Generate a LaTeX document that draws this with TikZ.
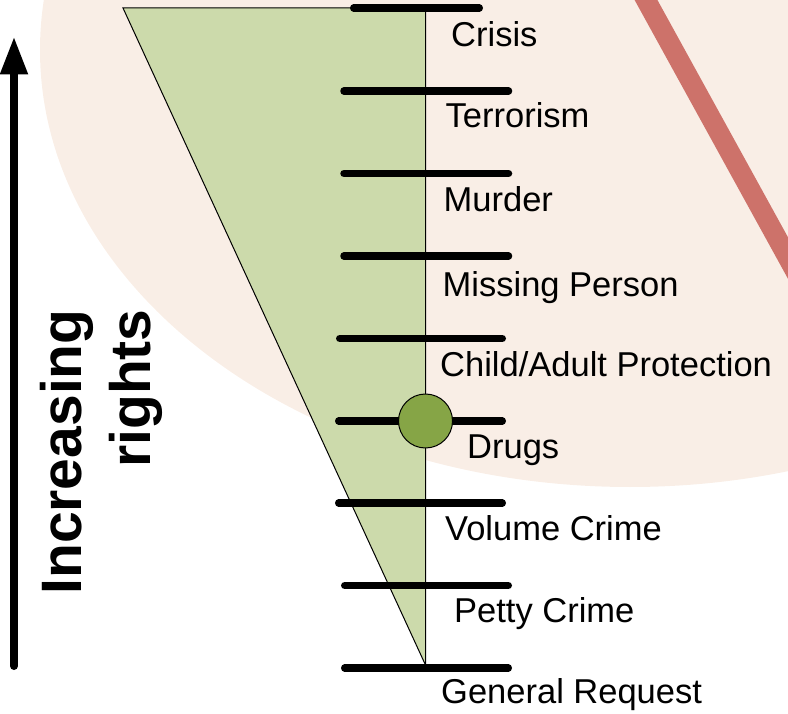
\documentclass[tikz,border=0pt]{standalone}
\usepackage{fontspec}
\setmainfont{Liberation Sans}
\usetikzlibrary{arrows.meta}
\definecolor{peach}{RGB}{249,238,230}
\definecolor{leaf}{RGB}{204,218,171}
\definecolor{moss}{RGB}{134,165,70}
\definecolor{brick}{RGB}{205,114,106}

\begin{document}
\begin{tikzpicture}[x=1pt, y=-1pt, tick/.style = {line width=7.5pt, line cap=round}, lbl/.style = {anchor=base west, inner sep=0pt, font=\fontsize{34.5}{41}\selectfont}, dot/.style = {draw, circle, fill=moss, minimum size=54pt, inner sep=0pt, line width=1pt}]
	\useasboundingbox (0,0) rectangle (788,714);
	\clip (0,0) rectangle (788,714);
	% background
	\fill[peach] (630,50) ellipse [x radius=590, y radius=437];
	\draw[brick, line width=20pt] (618.5,-50) -- (837.5,348);
	% scale
	\draw[fill=leaf, line width=1pt] (123,8) -- (425.5,8) -- (425.5,665) -- cycle;
	\draw[tick] (353.75,8) -- (479.25,8);
	\node[lbl] (crisis) at (451,46.5) {Crisis};
	\draw[tick] (344,91) -- (508.5,91);
	\node[lbl] (terror) at (445.5,128) {Terrorism};
	\draw[tick] (344,173.5) -- (508.5,173.5);
	\node[lbl] (murder) at (443.5,212) {Murder};
	\draw[tick] (344,256) -- (508.5,256);
	\node[lbl] (missing) at (442.5,297) {Missing Person};
	\draw[tick] (339.75,338.5) -- (502.25,338.5);
	\node[lbl] (protect) at (440,377) {Child/Adult Protection};
	\draw[tick] (338.75,421) -- (502.25,421);
	\node[dot] (hub) at (425.5,421) {};
	\node[lbl] (drugs) at (467,458) {Drugs};
	\draw[tick] (338.75,503) -- (502.25,503);
	\node[lbl] (volume) at (445,540) {Volume Crime};
	\draw[tick] (344.75,585.5) -- (508.25,585.5);
	\node[lbl] (petty) at (454,622) {Petty Crime};
	\draw[tick] (344.75,668) -- (508.25,668);
	\node[lbl] (general) at (441,703) {General Request};
	% arrow
	\coordinate (low) at (14,666);
	\coordinate (high) at (14,36.5);
	\draw[line width=8pt, line cap=round, -{Triangle[width=26pt,length=38pt]}] (low) -- (high);
	\node[rotate=90, align=right, inner sep=0pt, font=\fontsize{57}{69}\selectfont\bfseries] (rights) at (101,452) {Increasing\\rights};
\end{tikzpicture}
\end{document}
